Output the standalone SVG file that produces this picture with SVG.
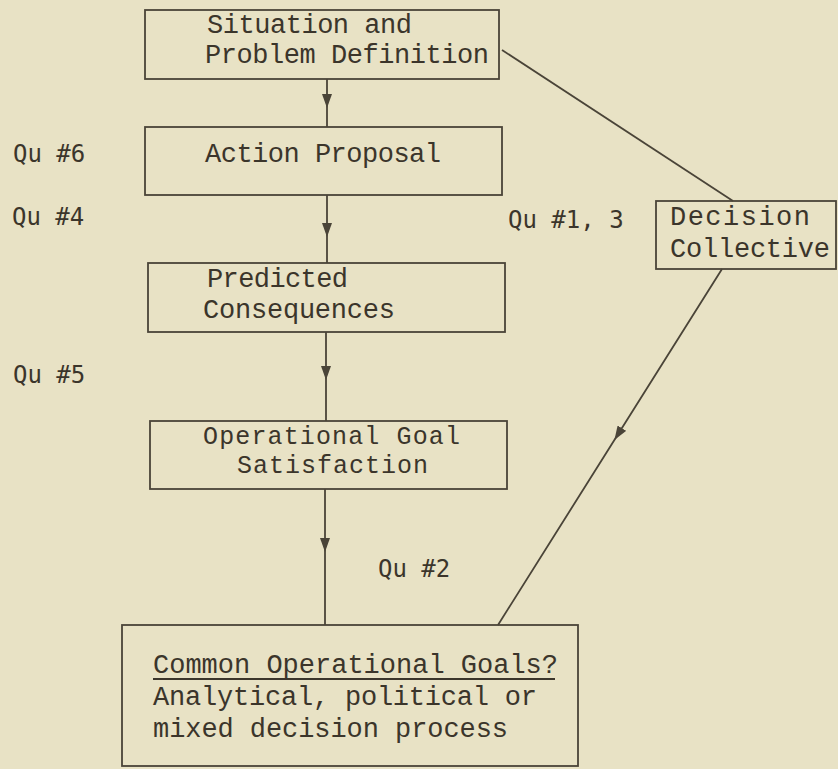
<svg xmlns="http://www.w3.org/2000/svg" width="838" height="769" viewBox="0 0 838 769">
<style>
.box{fill:none;stroke:#4a4438;stroke-width:1.8}
.t{font-family:"Liberation Mono","Courier New",monospace;font-size:27px;fill:#3b352b}
.s{font-size:25px}
.q{font-family:"DejaVu Sans Mono","Liberation Mono",monospace;font-size:24px;fill:#3b352b}
.c{fill:none;stroke:#4a4438;stroke-width:1.8}
.a{marker-mid:url(#arr)}
</style>
<defs>
<marker id="arr" viewBox="0 0 14 10" refX="14" refY="5" markerWidth="14" markerHeight="10" markerUnits="userSpaceOnUse" orient="auto">
<path d="M0,0 L14,5 L0,10 z" fill="#4a4438"/>
</marker>
</defs>
<rect width="838" height="769" fill="#e8e2c5"/>
<g id="connectors">
<path class="c a" d="M327 79 L327 108 L327 127"/>
<path class="c a" d="M327 195 L327 237 L327 263"/>
<path class="c a" d="M326 332 L326 380 L326 421"/>
<path class="c a" d="M325 489 L325 552 L325 625"/>
<path class="c" d="M502 50 L733 201"/>
<path class="c a" d="M722 269 L614.4 440 L498 625"/>
</g>
<g id="n1">
<rect class="box" x="145" y="10" width="354" height="69"/>
<text class="t" x="207" y="33" textLength="205" lengthAdjust="spacing">Situation and</text>
<text class="t" x="205" y="63" textLength="284" lengthAdjust="spacing">Problem Definition</text>
</g>
<g id="n2">
<rect class="box" x="145" y="127" width="357" height="68"/>
<text class="t" x="205" y="162" textLength="236" lengthAdjust="spacing">Action Proposal</text>
</g>
<g id="n3">
<rect class="box" x="148" y="263" width="357" height="69"/>
<text class="t" x="207" y="287" textLength="141" lengthAdjust="spacing">Predicted</text>
<text class="t" x="203" y="318" textLength="192" lengthAdjust="spacing">Consequences</text>
</g>
<g id="n4">
<rect class="box" x="150" y="421" width="357" height="68"/>
<text class="t s" x="203" y="444" textLength="257" lengthAdjust="spacing">Operational Goal</text>
<text class="t s" x="237" y="473" textLength="191" lengthAdjust="spacing">Satisfaction</text>
</g>
<g id="n5">
<rect class="box" x="656" y="201" width="180" height="68"/>
<text class="t" x="670" y="225" textLength="140" lengthAdjust="spacing">Decision</text>
<text class="t" x="670" y="257" textLength="160" lengthAdjust="spacing">Collective</text>
</g>
<g id="n6">
<rect class="box" x="122" y="625" width="456" height="141"/>
<text class="t" x="153" y="673" textLength="405" lengthAdjust="spacing">Common Operational Goals?</text>
<line x1="153" y1="679" x2="555" y2="679" stroke="#3b352b" stroke-width="2"/>
<text class="t" x="153" y="705" textLength="384" lengthAdjust="spacing">Analytical, political or</text>
<text class="t" x="153" y="737" textLength="355" lengthAdjust="spacing">mixed decision process</text>
</g>
<g id="labels">
<text class="q" x="13" y="162">Qu #6</text>
<text class="q" x="12" y="225">Qu #4</text>
<text class="q" x="13" y="383">Qu #5</text>
<text class="q" x="508" y="228">Qu #1, 3</text>
<text class="q" x="378" y="577">Qu #2</text>
</g>
</svg>
